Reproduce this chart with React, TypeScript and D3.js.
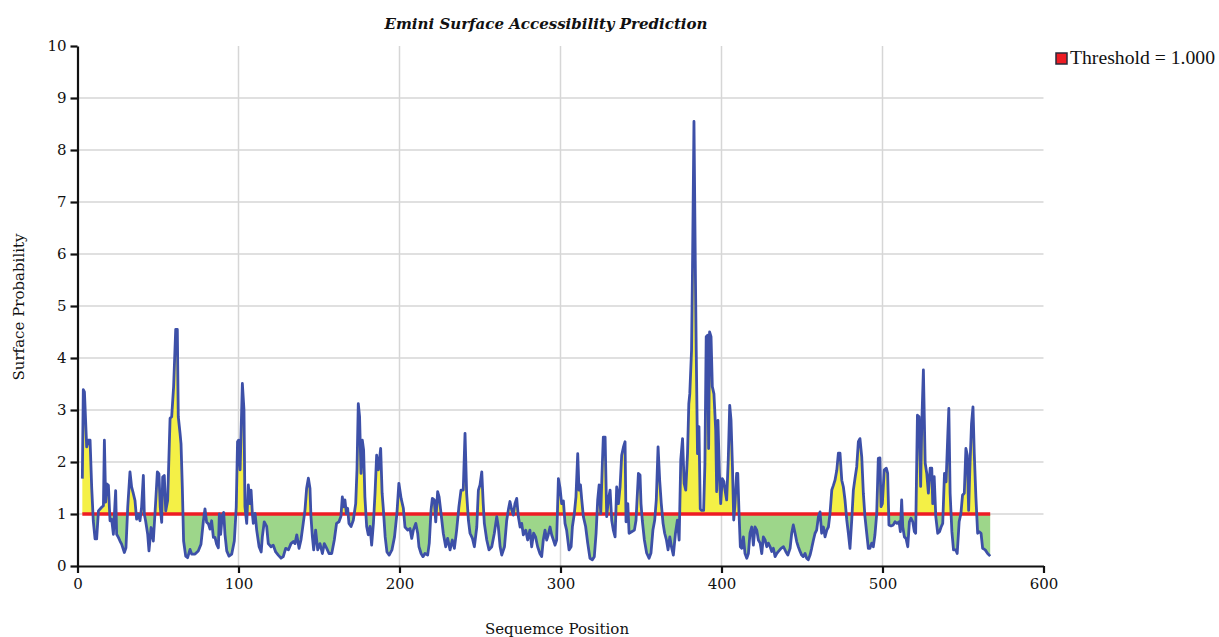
import React, { useEffect, useRef } from "react";
import * as d3 from "d3";

// sequence positions of the traced vertices
const positions = [
  3, 3.6, 4.3, 5.7, 6.7, 7.8, 8.8, 9.8, 10.9, 11.9, 13, 15, 16.1, 16.7, 17.5, 18.1, 19.2, 20.2, 21.2, 22.3,
  23.7, 24.3, 25.4, 26.4, 27.4, 29.1, 30.1, 31.2, 32.6, 33.6, 34.7, 35.7, 36.7, 37.8, 38.8, 39.8, 40.9, 41.5, 42.3, 43.6,
  44.4, 45.7, 47.1, 48.6, 49.6, 50.6, 51.4, 52.3, 52.9, 53.9, 54.8, 56, 57.5, 58.5, 59.7, 61, 62, 62.6, 63.7, 64.3,
  65.1, 65.9, 67.2, 68.4, 69.9, 70.9, 73, 75, 76.7, 78.2, 79.2, 80.2, 81.3, 82.3, 83.3, 84.4, 85.4, 86.4, 87.5, 88.1,
  88.9, 89.9, 90.8, 91.6, 92.7, 94.1, 95.8, 97.4, 98.6, 99.4, 100, 101, 102.4, 103.4, 104, 105.1, 106.1, 107.1, 107.8, 108.6,
  109.2, 110.3, 111.3, 112.8, 114.1, 114.8, 116, 117.5, 118.5, 120.2, 121.6, 123.1, 124.7, 126.4, 127.8, 129.3, 131, 132.6, 134.1, 135.1,
  136.2, 137.6, 138.8, 140.2, 141.3, 142.3, 143.4, 144.4, 145, 145.9, 146.7, 147.9, 149.2, 150.6, 152.1, 153.3, 154.8, 156.2, 157.9, 159.5,
  160.9, 162.4, 163.6, 164.5, 165.3, 166.1, 167, 167.8, 168.6, 169.9, 171.3, 172.8, 173.6, 174.4, 175.2, 176.1, 176.9, 177.7, 178.5, 179.6,
  180.6, 181.7, 182.7, 183.8, 184.8, 185.8, 186.9, 188.3, 189.2, 190, 191.1, 192.2, 193.6, 195.3, 196.9, 198.4, 199.6, 201, 202.4, 203.4,
  205.1, 206.5, 207.6, 208.6, 210.1, 211.3, 212.1, 213.4, 214.6, 215.8, 217.5, 218.5, 219.6, 220.4, 221.6, 222.5, 223.7, 224.6, 225.8, 227.2,
  228.7, 229.9, 231.4, 232.8, 234.1, 235.5, 236.9, 238.2, 239.6, 240.7, 241.7, 242.8, 243.8, 245.3, 246.5, 248, 249, 250, 251.1, 252,
  252.7, 254.2, 255.6, 257.3, 258.9, 260.4, 261.4, 262.5, 263.5, 265.2, 266.6, 267.6, 268.6, 269.7, 270.7, 271.7, 272.8, 273.8, 274.9, 275.9,
  276.9, 278.4, 279.6, 281, 282.1, 283.3, 284.5, 285.8, 287.2, 288.3, 289.3, 290.4, 291.4, 292.4, 293.5, 294.5, 295.6, 296.6, 297.6, 298.7,
  299.7, 300.7, 301.8, 302.8, 303.8, 305.3, 306.6, 307.4, 308.6, 309.6, 310.7, 311.5, 312.4, 313.2, 314.2, 315.6, 316.9, 318.3, 319.8, 321,
  322.1, 323.1, 324, 325, 326, 326.6, 327.7, 328.7, 329.7, 330.8, 331.8, 332.8, 333.9, 334.9, 336, 337, 338, 339.1, 340.1, 340.7,
  341.8, 342.6, 344.2, 345.9, 346.9, 348.4, 349.4, 350, 350.8, 352.1, 353.5, 355, 356.2, 357.4, 358.5, 359.5, 360.6, 361.6, 362.6, 363.7,
  364.7, 365.8, 366.8, 367.9, 368.9, 370.1, 371.4, 372.6, 373.7, 374.7, 375.8, 376.8, 377.8, 378.9, 379.7, 380.3, 381.4, 382, 382.9, 383.7,
  384.3, 385.1, 386, 386.8, 387.6, 388.9, 389.7, 390.5, 391.4, 392, 392.6, 393.5, 394.3, 395.3, 396.4, 397, 397.8, 398.7, 399.5, 400.5,
  401.5, 402.2, 403.2, 404.2, 405.1, 405.9, 406.8, 407.6, 408.4, 409.4, 410.1, 410.9, 411.7, 412.6, 413.6, 414.6, 415.7, 416.7, 417.7, 418.8,
  419.8, 420.8, 421.9, 422.9, 424, 425, 426, 427.1, 428.1, 429.1, 430.2, 431.2, 432.2, 433.3, 434.3, 435.4, 437, 438.5, 439.9, 441.2,
  442.6, 443.6, 444.6, 445.7, 446.7, 447.7, 448.8, 449.8, 450.8, 451.9, 452.9, 453.9, 455, 456, 457.1, 458.1, 459.1, 460.2, 461.2, 462.2,
  463.3, 464.3, 465.4, 466.4, 467.4, 468.5, 469.5, 470.5, 471.6, 472.6, 473.6, 474.7, 475.7, 476.7, 477.8, 478.8, 479.8, 480.9, 481.9, 482.9,
  484, 485, 486, 487.1, 488.1, 489.1, 490.2, 491.2, 492.2, 493.3, 494.3, 495.3, 496.4, 497.4, 498.4, 499.1, 499.9, 501.1, 502.4, 503.2,
  504, 505.3, 506.7, 507.8, 509, 510.3, 511.1, 511.9, 512.6, 513.6, 514.6, 515.7, 516.7, 517.7, 518.8, 519.8, 520.6, 521.7, 522.7, 523.7,
  524.4, 525.4, 526.5, 527.5, 528.5, 529.6, 530.6, 531.2, 532.1, 533.1, 534.3, 535.4, 536.4, 537.4, 538.5, 539.5, 540.6, 541.2, 542, 543.1,
  544.1, 545.5, 546.4, 547.6, 548.7, 549.7, 550.8, 551.8, 552.7, 553.5, 554.3, 555.3, 556.2, 557, 558, 559.1, 560.1, 561.2, 562.2, 563.8,
  565.3, 566.9,
];

// surface probability at each of those positions
const probabilities = [
  1.68, 3.39, 3.35, 2.29, 2.42, 2.42, 1.52, 0.87, 0.52, 0.52, 1.06, 1.13, 1.16, 2.42, 1.23, 1.58, 1.55, 0.87, 0.9, 0.61,
  1.45, 0.61, 0.55, 0.48, 0.42, 0.26, 0.35, 1.13, 1.81, 1.52, 1.39, 1.26, 0.9, 1.0, 0.87, 1.13, 1.74, 1.0, 0.87, 0.61,
  0.29, 0.74, 0.48, 1.26, 1.81, 1.77, 1.13, 0.84, 1.71, 1.74, 1.06, 1.26, 2.84, 2.87, 3.45, 4.55, 4.55, 2.87, 2.55, 2.35,
  1.52, 0.48, 0.19, 0.16, 0.32, 0.23, 0.23, 0.29, 0.42, 0.87, 1.1, 0.84, 0.81, 0.71, 0.87, 0.55, 0.55, 0.42, 0.35, 1.0,
  0.61, 0.97, 1.03, 0.61, 0.29, 0.19, 0.23, 0.48, 1.13, 2.39, 2.42, 1.85, 3.51, 3.0, 1.14, 0.82, 1.56, 1.2, 1.46, 1.01,
  0.82, 1.01, 0.69, 0.37, 0.27, 0.56, 0.85, 0.76, 0.43, 0.37, 0.4, 0.27, 0.21, 0.15, 0.18, 0.34, 0.31, 0.43, 0.47, 0.43,
  0.6, 0.34, 0.5, 0.82, 1.08, 1.49, 1.69, 1.49, 0.95, 0.56, 0.31, 0.69, 0.31, 0.43, 0.24, 0.43, 0.34, 0.24, 0.24, 0.5,
  0.82, 0.85, 0.95, 1.33, 1.14, 1.27, 1.01, 1.11, 0.82, 0.76, 0.88, 1.2, 1.85, 3.12, 2.87, 1.78, 2.42, 2.23, 1.33, 0.76,
  0.6, 0.76, 0.4, 0.82, 1.4, 2.13, 1.85, 2.26, 1.4, 1.08, 0.56, 0.27, 0.21, 0.31, 0.56, 1.01, 1.59, 1.3, 1.11, 0.75,
  0.69, 0.72, 0.53, 0.69, 0.82, 0.63, 0.37, 0.24, 0.18, 0.24, 0.21, 0.44, 1.08, 1.3, 1.27, 0.85, 1.43, 1.33, 1.01, 0.63,
  0.37, 0.53, 0.31, 0.5, 0.34, 0.69, 1.14, 1.46, 1.46, 2.55, 1.4, 0.88, 0.63, 0.53, 0.37, 0.75, 1.46, 1.56, 1.81, 1.2,
  0.82, 0.5, 0.31, 0.37, 0.63, 0.95, 0.75, 0.37, 0.21, 0.37, 0.88, 1.08, 1.24, 1.08, 0.98, 1.2, 1.3, 0.95, 0.75, 0.82,
  0.6, 0.69, 0.5, 0.69, 0.37, 0.63, 0.56, 0.37, 0.24, 0.18, 0.5, 0.69, 0.5, 0.6, 0.75, 0.6, 0.5, 0.4, 0.5, 1.68,
  1.5, 1.2, 1.25, 0.82, 0.69, 0.31, 0.37, 0.76, 1.01, 1.33, 2.16, 1.46, 1.56, 1.27, 0.95, 0.76, 0.44, 0.15, 0.12, 0.18,
  0.63, 1.27, 1.56, 1.01, 1.97, 2.48, 2.48, 0.95, 1.27, 1.46, 0.88, 0.69, 0.56, 1.52, 1.2, 1.52, 2.13, 2.29, 2.39, 0.85,
  1.2, 0.63, 0.66, 0.69, 0.88, 1.78, 1.75, 1.2, 0.88, 0.5, 0.25, 0.15, 0.25, 0.69, 0.88, 1.27, 2.29, 1.65, 1.2, 0.82,
  0.63, 0.5, 0.31, 0.56, 0.37, 0.21, 0.63, 0.88, 0.5, 2.04, 2.45, 1.59, 1.46, 2.16, 3.12, 3.31, 4.15, 5.75, 8.55, 5.88,
  4.15, 2.16, 2.68, 1.1, 1.07, 1.07, 1.97, 4.41, 4.44, 2.26, 4.5, 4.41, 3.45, 3.31, 2.61, 1.43, 2.8, 1.78, 1.2, 1.68,
  1.62, 1.46, 1.27, 2.04, 3.09, 2.81, 1.91, 0.885, 1.2, 1.78, 1.78, 1.01, 0.37, 0.34, 0.56, 0.24, 0.15, 0.24, 0.63, 0.75,
  0.4, 0.75, 0.69, 0.5, 0.44, 0.24, 0.56, 0.5, 0.37, 0.44, 0.37, 0.28, 0.34, 0.18, 0.24, 0.28, 0.34, 0.37, 0.28, 0.21,
  0.34, 0.63, 0.79, 0.63, 0.47, 0.37, 0.28, 0.21, 0.18, 0.24, 0.15, 0.12, 0.21, 0.34, 0.5, 0.63, 0.69, 0.95, 1.04, 0.63,
  0.75, 0.56, 0.69, 0.75, 1.01, 1.46, 1.55, 1.65, 1.84, 2.17, 2.17, 1.65, 1.52, 1.27, 0.885, 0.63, 0.34, 0.885, 1.46, 1.68,
  1.91, 2.39, 2.45, 2.1, 1.4, 0.95, 0.63, 0.34, 0.34, 0.44, 0.37, 0.6, 1.0, 2.07, 2.08, 1.14, 1.2, 1.85, 1.88, 1.78,
  0.79, 0.77, 0.79, 0.85, 0.82, 0.85, 0.66, 1.27, 0.75, 0.56, 0.53, 0.37, 0.85, 0.92, 0.85, 0.66, 0.63, 2.9, 2.87, 1.53,
  2.74, 3.77, 1.98, 1.78, 1.4, 1.88, 1.88, 1.2, 1.72, 0.95, 0.63, 0.66, 0.75, 0.82, 1.78, 1.62, 2.55, 3.03, 1.4, 0.66,
  0.31, 0.31, 0.24, 0.85, 1.01, 1.36, 1.4, 2.26, 2.13, 1.07, 1.91, 2.74, 3.06, 2.16, 1.33, 0.63, 0.66, 0.63, 0.34, 0.31,
  0.24, 0.19,
];

const threshold = 1.0;
const xTicks = [0, 100, 200, 300, 400, 500, 600];
const yTicks = [0, 1, 2, 3, 4, 5, 6, 7, 8, 9, 10];
const xGrid = [100, 200, 300, 400, 500];
const yGrid = [1, 2, 3, 4, 5, 6, 7, 8, 9];

const FONT = "'DejaVu Serif', serif";

export default function App() {
  const ref = useRef<SVGSVGElement>(null);

  useEffect(() => {
    const svg = d3.select(ref.current);
    svg.selectAll("*").remove();

    const data = positions.map((p, i) => ({ p, v: probabilities[i] }));

    const x = d3.scaleLinear().domain([0, 600]).range([77.5, 1043.5]);
    const y = d3.scaleLinear().domain([0, 10]).range([566, 46]);

    // grid
    svg.append("g")
      .selectAll("line")
      .data(xGrid)
      .join("line")
      .attr("x1", (d) => x(d)).attr("x2", (d) => x(d))
      .attr("y1", y(10)).attr("y2", y(0))
      .attr("stroke", "#d6d6d6").attr("stroke-width", 1.5);
    svg.append("g")
      .selectAll("line")
      .data(yGrid)
      .join("line")
      .attr("x1", x(0)).attr("x2", x(600))
      .attr("y1", (d) => y(d)).attr("y2", (d) => y(d))
      .attr("stroke", "#d6d6d6").attr("stroke-width", 1.5);

    // clip above / below the threshold
    const defs = svg.append("defs");
    defs.append("clipPath").attr("id", "above")
      .append("rect").attr("x", 0).attr("y", 0).attr("width", 1219).attr("height", y(threshold));
    defs.append("clipPath").attr("id", "below")
      .append("rect").attr("x", 0).attr("y", y(threshold)).attr("width", 1219).attr("height", 637);

    const area = d3.area<{ p: number; v: number }>()
      .x((d) => x(d.p))
      .y0(y(threshold))
      .y1((d) => y(d.v));

    svg.append("path").datum(data)
      .attr("d", area)
      .attr("fill", "#f4f046")
      .attr("clip-path", "url(#above)");
    svg.append("path").datum(data)
      .attr("d", area)
      .attr("fill", "#9dd68a")
      .attr("clip-path", "url(#below)");

    // threshold line
    svg.append("line")
      .attr("x1", x(positions[0])).attr("x2", x(positions[positions.length - 1]))
      .attr("y1", y(threshold)).attr("y2", y(threshold))
      .attr("stroke", "#ee1c24").attr("stroke-width", 3.5);

    // probability line
    const line = d3.line<{ p: number; v: number }>()
      .x((d) => x(d.p))
      .y((d) => y(d.v));
    svg.append("path").datum(data)
      .attr("d", line)
      .attr("fill", "none")
      .attr("stroke", "#3d50a8")
      .attr("stroke-width", 2.8)
      .attr("stroke-linejoin", "round");

    // axes
    const xAxis = svg.append("g")
      .attr("transform", `translate(0,${y(0)})`)
      .call(d3.axisBottom(x).tickValues(xTicks).tickSize(7).tickSizeOuter(0).tickPadding(5));
    const yAxis = svg.append("g")
      .attr("transform", `translate(${x(0)},0)`)
      .call(d3.axisLeft(y).tickValues(yTicks).tickSize(7).tickSizeOuter(0).tickPadding(4));
    [xAxis, yAxis].forEach((g) => {
      g.select(".domain").attr("stroke", "#111").attr("stroke-width", 2.2);
      g.selectAll(".tick line").attr("stroke", "#111").attr("stroke-width", 2.2);
      g.selectAll(".tick text")
        .attr("font-family", FONT)
        .attr("font-size", 15)
        .attr("fill", "#111");
    });

    // title
    svg.append("text")
      .attr("x", 546).attr("y", 29)
      .attr("text-anchor", "middle")
      .attr("font-family", FONT)
      .attr("font-weight", "bold")
      .attr("font-style", "italic")
      .attr("font-size", 15.5)
      .attr("textLength", 323)
      .attr("lengthAdjust", "spacingAndGlyphs")
      .attr("fill", "#111")
      .text("Emini Surface Accessibility Prediction");

    // axis labels
    svg.append("text")
      .attr("x", 557).attr("y", 634)
      .attr("text-anchor", "middle")
      .attr("font-family", FONT)
      .attr("font-size", 15)
      .attr("fill", "#111")
      .text("Sequemce Position");
    svg.append("text")
      .attr("transform", "translate(24,307) rotate(-90)")
      .attr("text-anchor", "middle")
      .attr("font-family", FONT)
      .attr("font-size", 15)
      .attr("fill", "#111")
      .text("Surface Probability");

    // legend
    svg.append("rect")
      .attr("x", 1056).attr("y", 53).attr("width", 11).attr("height", 11)
      .attr("fill", "#ee1c24").attr("stroke", "#2a2a3a").attr("stroke-width", 1.5);
    svg.append("text")
      .attr("x", 1070).attr("y", 64)
      .attr("font-family", "'Liberation Serif', serif")
      .attr("font-size", 18)
      .attr("textLength", 145)
      .attr("lengthAdjust", "spacingAndGlyphs")
      .attr("fill", "#111")
      .text("Threshold = 1.000");
  }, []);

  return (
    <svg
      ref={ref}
      width={1219}
      height={637}
      style={{ position: "absolute", left: 0, top: 0, background: "#fff" }}
    />
  );
}
